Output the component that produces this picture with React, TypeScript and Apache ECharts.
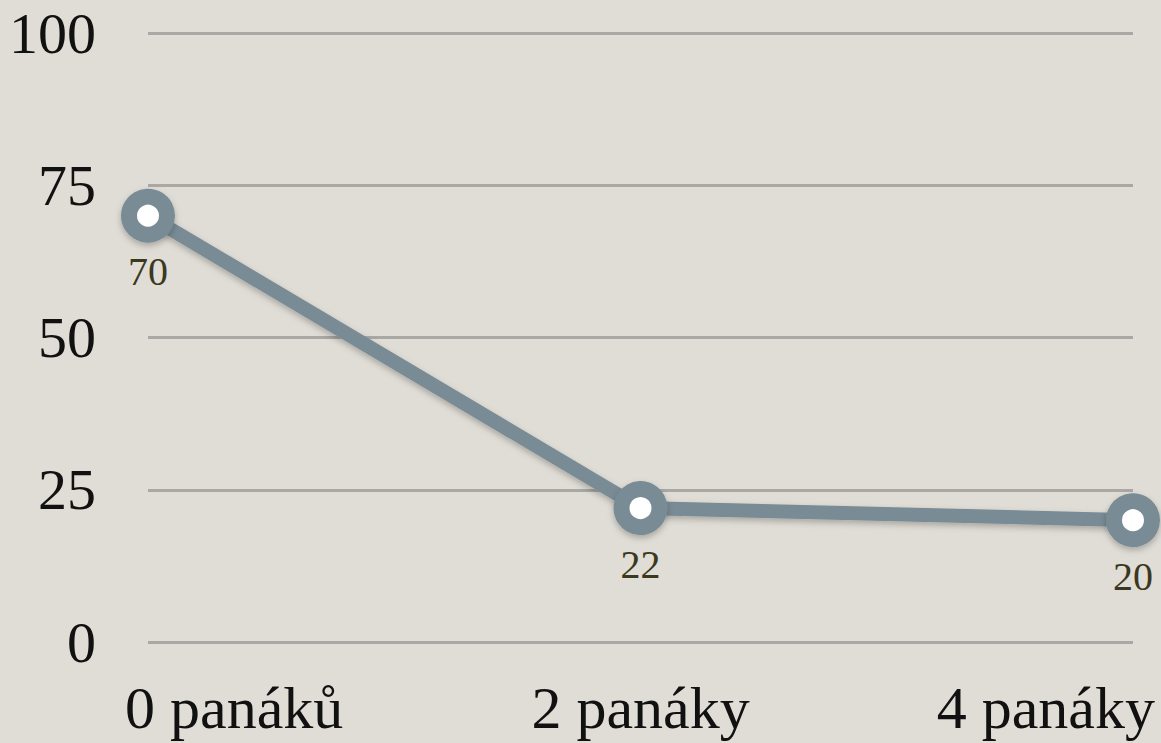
import React, { useEffect, useRef } from "react";
import * as echarts from "echarts";

const categories = ["0 panáků", "2 panáky", "4 panáky"];
const values = [70, 22, 20];
const yTicks = [0, 25, 50, 75, 100];

export default function App() {
  const ref = useRef<HTMLDivElement>(null);
  useEffect(() => {
    document.body.style.margin = "0";
    const chart = echarts.init(ref.current!, null, { renderer: "svg" });
    const font = "'Liberation Serif', 'DejaVu Serif', serif";
    const xl = { color: "#111", fontFamily: font, fontSize: 60 };
    chart.setOption({
      animation: false,
      backgroundColor: "#e0ddd6",
      grid: { left: 148, right: 28, top: 33, bottom: 101, containLabel: false },
      xAxis: {
        type: "category",
        data: categories,
        boundaryGap: false,
        axisLine: { show: false },
        axisTick: { show: false },
        axisLabel: {
          ...xl,
          interval: 0,
          hideOverlap: false,
          margin: 36,
          formatter: (v: string, i: number) =>
            i === 0 ? `{first|${v}}` : i === categories.length - 1 ? `{last|${v}}` : `{mid|${v}}`,
          rich: {
            first: { ...xl, width: 46, align: "left" },
            last: { ...xl, width: 44, align: "right" },
            mid: { ...xl },
          },
        },
      },
      yAxis: {
        type: "value",
        min: yTicks[0],
        max: yTicks[yTicks.length - 1],
        interval: 25,
        axisLine: { show: false },
        axisTick: { show: false },
        axisLabel: { color: "#111", fontFamily: font, fontSize: 58, margin: 52 },
        splitLine: { lineStyle: { color: "#a9a8a5", width: 3 } },
      },
      series: [
        {
          type: "line",
          data: values,
          lineStyle: {
            color: "#798b95",
            width: 14,
            shadowColor: "rgba(0,0,0,0.25)",
            shadowBlur: 6,
            shadowOffsetY: 3,
          },
          symbol: "circle",
          symbolSize: 38,
          itemStyle: {
            color: "#ffffff",
            borderColor: "#798b95",
            borderWidth: 16,
            shadowColor: "rgba(0,0,0,0.25)",
            shadowBlur: 6,
            shadowOffsetY: 3,
          },
          label: {
            show: true,
            position: "bottom",
            distance: 9,
            color: "#3b3820",
            fontFamily: font,
            fontSize: 40,
          },
        },
      ],
    });
    return () => chart.dispose();
  }, []);
  return <div ref={ref} style={{ width: 1161, height: 743 }} />;
}
